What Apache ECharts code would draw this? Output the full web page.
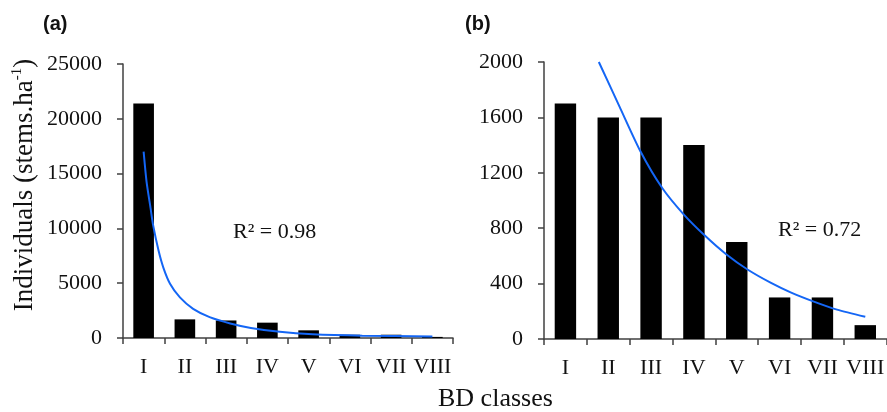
<!DOCTYPE html>
<html>
<head>
<meta charset="utf-8">
<script src="https://cdn.jsdelivr.net/npm/echarts@6/dist/echarts.min.js"></script>
<style>
  html, body { margin: 0; padding: 0; background: #fff; }
  #chart { width: 887px; height: 412px; }
</style>
</head>
<body>
<div id="chart"></div>
<script>
var classes = ['I', 'II', 'III', 'IV', 'V', 'VI', 'VII', 'VIII'];

// (a) individuals per class
var valuesA = [21400, 1700, 1600, 1400, 700, 300, 300, 100];
// (b)
var valuesB = [1700, 1600, 1600, 1400, 700, 300, 300, 100];

// fitted curves as [class position, value]
var trendA = [[1, 17000], [1.07, 14300], [1.17, 11800], [1.23, 10300], [1.36, 8000],
  [1.48, 6400], [1.64, 4950], [1.88, 3700], [2.2, 2650], [2.6, 1900], [3.1, 1330],
  [3.6, 920], [4.3, 560], [5.1, 340], [6.3, 210], [8, 140]];
var trendB = [[1.78, 2000], [2.26, 1680], [2.76, 1350], [3.26, 1090], [3.76, 900],
  [4.26, 745], [4.76, 610], [5.26, 500], [5.8, 405], [6.27, 335], [6.8, 270],
  [7.34, 212], [8, 160]];

var ticksA = { min: 0, max: 25000, interval: 5000 };
var ticksB = { min: 0, max: 2000, interval: 400 };

var serif = 'Liberation Serif';
var axisColor = '#404040';
var lineBlue = '#1466f5';

var chart = echarts.init(document.getElementById('chart'));

function catAxis(grid) {
  return {
    type: 'category', gridIndex: grid, data: classes,
    axisLine: { show: true, lineStyle: { color: axisColor, width: 1.5 } },
    axisTick: { show: true, length: 6, lineStyle: { color: axisColor, width: 1.5 } },
    axisLabel: { color: '#111', fontFamily: serif, fontSize: 22, margin: 18, interval: 0, hideOverlap: false }
  };
}
function posAxis(grid) {
  return { type: 'value', gridIndex: grid, min: 0.5, max: 8.5, show: false };
}
function valAxis(grid, t) {
  return {
    type: 'value', gridIndex: grid, min: t.min, max: t.max, interval: t.interval,
    splitLine: { show: false },
    axisLine: { show: true, lineStyle: { color: axisColor, width: 1.5 } },
    axisTick: { show: true, length: 6, lineStyle: { color: axisColor, width: 1.5 } },
    axisLabel: { color: '#111', fontFamily: serif, fontSize: 22, margin: 21,
      formatter: function (v) { return String(v); } }
  };
}

var yA = valAxis(0, ticksA);
yA.name = '{a|Individuals (stems.ha}{s|-1}{a|)}';
yA.nameLocation = 'middle';
yA.nameGap = 83;
yA.nameRotate = 90;
yA.nameTextStyle = {
  padding: [0, 0, 0, 32],
  rich: {
    a: { fontFamily: serif, fontSize: 27, color: '#111', lineHeight: 30 },
    s: { fontFamily: serif, fontSize: 15, color: '#111', verticalAlign: 'top', lineHeight: 30, padding: [0, 0, 10, 0] }
  }
};

option = {
  animation: false,
  grid: [
    { left: 123, right: 434, top: 64, bottom: 74 },
    { left: 544, right: -3, top: 62, bottom: 73 }
  ],
  xAxis: [catAxis(0), catAxis(1), posAxis(0), posAxis(1)],
  yAxis: [yA, valAxis(1, ticksB)],
  graphic: [
    { type: 'text', left: 43, top: 14, style: { text: '(a)', font: 'bold 20px "Liberation Sans"', fill: '#111' } },
    { type: 'text', left: 465, top: 14, style: { text: '(b)', font: 'bold 20px "Liberation Sans"', fill: '#111' } },
    { type: 'text', left: 233, top: 221, style: { text: 'R² = 0.98', font: '22px "Liberation Serif"', fill: '#111' } },
    { type: 'text', left: 778, top: 219, style: { text: 'R² = 0.72', font: '22px "Liberation Serif"', fill: '#111' } },
    { type: 'text', left: 438, top: 386, style: { text: 'BD classes', font: '26px "Liberation Serif"', fill: '#111' } }
  ],
  series: [
    { type: 'bar', xAxisIndex: 0, yAxisIndex: 0, data: valuesA, barWidth: '50%',
      itemStyle: { color: '#000' } },
    { type: 'bar', xAxisIndex: 1, yAxisIndex: 1, data: valuesB, barWidth: '50%',
      itemStyle: { color: '#000' } },
    { type: 'line', xAxisIndex: 2, yAxisIndex: 0, data: trendA, smooth: 0.25,
      showSymbol: false, lineStyle: { color: lineBlue, width: 2 } },
    { type: 'line', xAxisIndex: 3, yAxisIndex: 1, data: trendB, smooth: 0.25,
      showSymbol: false, lineStyle: { color: lineBlue, width: 2 } }
  ]
};
chart.setOption(option);
</script>
</body>
</html>
